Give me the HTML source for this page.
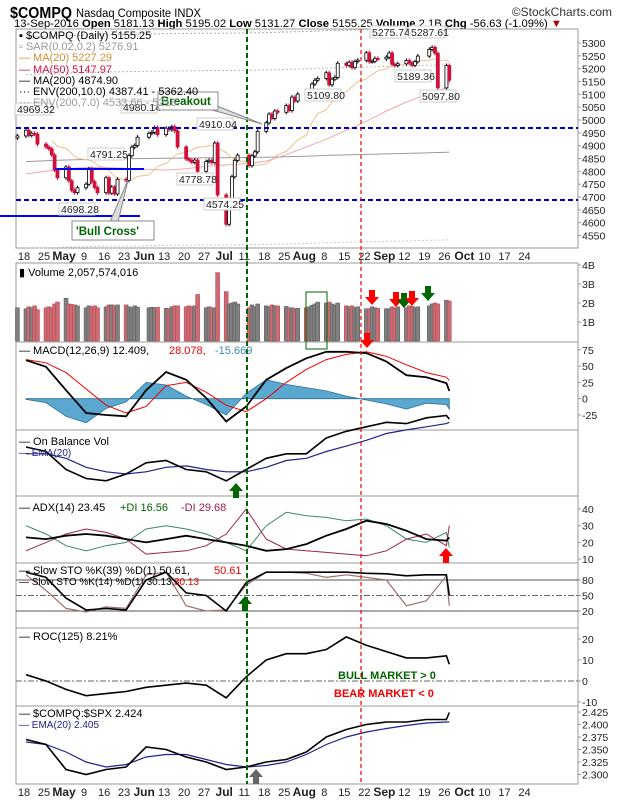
<!DOCTYPE html>
<html><head><meta charset="utf-8"><style>
body{margin:0;background:#fff;}
svg{display:block;font-family:"Liberation Sans",sans-serif;}
</style></head><body>
<svg id="c" width="620" height="800" viewBox="0 0 620 800" xmlns="http://www.w3.org/2000/svg">
<rect width="620" height="800" fill="#fff"/>
<g>
<text x="10" y="18" font-size="16" font-weight="bold" fill="#000" textLength="62" lengthAdjust="spacingAndGlyphs">$COMPQ</text>
<text x="76" y="17" font-size="11.5" fill="#000" textLength="125" lengthAdjust="spacingAndGlyphs">Nasdaq Composite INDX</text>
<text x="612" y="16" font-size="12" fill="#333" text-anchor="end">©StockCharts.com</text>
<text x="14" y="27" font-size="11" fill="#000" textLength="548" lengthAdjust="spacingAndGlyphs">13-Sep-2016   <tspan font-weight="bold">Open</tspan> 5181.13 <tspan font-weight="bold">High</tspan> 5195.02 <tspan font-weight="bold">Low</tspan> 5131.27 <tspan font-weight="bold">Close</tspan> 5155.25 <tspan font-weight="bold">Volume</tspan> 2.1B <tspan font-weight="bold">Chg</tspan> -56.63 (-1.09%) <tspan fill="#a00">▼</tspan></text>
</g>
<g id="panels"></g>
<g id="marks"></g>
<g id="annot"></g>
</svg>
<script>
// ---------- data ----------
const closes=[4938,4960,4940,4948,4945,4906,4895,4888,4864,4805,4775,4817,4763,4726,4717,4736,4750,4810,4760,4737,4717,4775,4715,4739,4712,4769,4765,4861,4894,4901,4933,4948,4952,4971,4943,4968,4962,4974,4958,4895,4848,4843,4835,4844,4800,4838,4843,4834,4910,4708,4594,4691,4779,4843,4863,4822,4860,4876,4956,4989,5023,5006,5035,5030,5056,5037,5089,5074,5101,5098,5110,5140,5155,5162,5184,5137,5159,5166,5221,5213,5225,5204,5228,5233,5262,5227,5229,5240,5238,5245,5261,5217,5212,5219,5232,5222,5213,5227,5249,5275,5283,5260,5125,5212,5155];
const volumes=[1.75,1.7,1.8,1.75,1.85,1.65,1.75,1.8,1.75,1.95,2.05,2.25,1.95,1.92,1.9,1.85,1.75,1.85,1.8,1.85,1.75,1.8,1.9,1.9,1.85,1.9,1.9,1.8,1.75,1.85,1.78,1.75,1.78,1.75,1.78,1.72,1.7,1.8,1.85,1.85,1.8,1.85,1.8,1.85,2.45,1.75,1.8,1.75,1.75,3.6,2.6,1.95,2.0,2.05,1.95,1.75,1.9,1.8,1.95,1.85,1.8,1.9,1.85,1.85,1.82,1.75,1.75,1.7,1.72,1.75,1.8,1.88,1.95,2.05,2.0,2.05,1.95,1.9,2.0,1.85,1.8,1.85,1.75,1.8,1.7,1.7,1.8,1.75,1.72,1.7,1.7,1.8,1.72,1.8,1.75,1.85,1.82,1.75,1.8,1.85,1.95,2.0,1.95,2.15,2.1];
const macdLine=[59,49,13,-22,-25,-27,13,41,29,1,-35,-12,29,47,62,72,72,70,57,36,33,24,12];
const macdSignal=[60,55,40,15,-10,-22,-12,20,25,10,-10,-20,0,25,45,60,68,72,65,52,40,33,28];
const obvVals=[100,90,50,30,25,40,65,70,50,45,25,50,75,85,85,120,135,145,155,152,165,170,162];
const obvEma=[85,85,75,55,45,40,45,55,58,50,45,45,55,70,75,90,102,115,130,138,145,152,155];
const adxVals=[23,22,24,25,24,22,20,22,24,22,20,18,15,16,19,24,28,33,31,27,22,21,23];
const plusDI=[30,25,18,15,18,20,28,30,28,25,20,15,30,38,36,35,33,34,30,22,20,26,17];
const minusDI=[15,20,25,28,26,22,13,14,15,18,25,40,22,16,15,14,13,12,15,22,25,18,30];
const sto39=[95,85,45,22,25,22,80,95,55,50,20,75,95,95,95,95,95,93,92,88,90,90,50];
const sto14=[90,60,25,18,28,25,90,95,30,20,22,70,95,95,93,85,90,85,80,30,40,88,30];
const rocVals=[3,0,-4,-7,-6,-5,-3,-2,-1,-2,-8,2,10,13,13,15,21,17,14,11,11,12,8];
const ratioVals=[2.37,2.36,2.31,2.30,2.31,2.315,2.355,2.35,2.335,2.325,2.31,2.315,2.325,2.33,2.345,2.375,2.39,2.40,2.405,2.405,2.41,2.41,2.424];
const ratioEma=[2.365,2.36,2.345,2.325,2.315,2.32,2.335,2.34,2.34,2.33,2.32,2.315,2.318,2.325,2.34,2.36,2.375,2.385,2.392,2.398,2.403,2.405,2.405];
const ma200=[4838,4841,4844,4846,4848,4849,4850,4851,4852,4853,4853,4854,4855,4857,4859,4862,4864,4866,4868,4870,4872,4874,4875];
const ma50=[4790,4800,4810,4815,4815,4812,4808,4805,4810,4820,4825,4830,4840,4865,4895,4925,4960,4995,5035,5070,5100,5125,5147];
const dateLabels=["18","25","May","9","16","23","Jun","13","20","27","Jul","11","18","25","Aug","8","15","22","Sep","12","19","26","Oct","10","17","24"];
const mainTicks=[5300,5250,5200,5150,5100,5050,5000,4950,4900,4850,4800,4750,4700,4650,4600,4550];
const volTicks=[1,2,3,4];
const macdTicks=[75,50,25,0,-25];
const adxTicks=[40,30,20,10];
const stoTicks=[80,50,20];
const rocTicks=[20,10,0,-10];
const ratioTicks=[2.425,2.4,2.375,2.35,2.325,2.3];

// ---------- scales ----------
const NS="http://www.w3.org/2000/svg";
const L=16,R=578;
function el(tag,attrs,parent,text){const e=document.createElementNS(NS,tag);for(const k in attrs)e.setAttribute(k,attrs[k]);if(text!==undefined)e.textContent=text;(parent||document.getElementById('marks')).appendChild(e);return e;}
const dayOff=[];{let d=new Date(2016,3,15);const end=new Date(2016,8,13);const hol=["2016-4-30","2016-6-4","2016-8-5"];const base=new Date(2016,3,18);
while(d<=end){const w=d.getDay();const key=d.getFullYear()+"-"+d.getMonth()+"-"+d.getDate();if(w>0&&w<6&&hol.indexOf(key)<0)dayOff.push(Math.round((d-base)/864e5));d.setDate(d.getDate()+1);}}
const xDay=d=>26+d*2.86;
const xBar=i=>xDay(dayOff[i]);
const weekDays=[];for(let k=0;k<22;k++)weekDays.push(k*7);weekDays.push(148);
const xWeek=k=>xDay(weekDays[k]);
const yMain=v=>120+(5000-v)*0.2567;
const yVol=v=>341-v*19;
const yMacd=v=>398.7-v*0.652;
const yObv=v=>492-v*0.45;
const yAdx=v=>509+(40-v)*1.67;
const ySto=v=>Math.max(566,611-(v-20)*0.517);
const yRoc=v=>681-v*2.1;
const yRatio=v=>712+(2.425-v)*500;

const P=document.getElementById('panels');
const panels=[["main-price-panel",29,248],["volume-panel",263,342],["macd-panel",342,430],["obv-panel",430,496],["adx-panel",496,563],["sto-panel",563,628],["roc-panel",628,706],["ratio-panel",706,784]];
panels.forEach(p=>{const r=el('rect',{x:L,y:p[1],width:R-L,height:p[2]-p[1],fill:'none',stroke:'#999','stroke-width':1},P);

});
function ticks(arr,fy,fmt,name){arr.forEach(v=>{el('line',{x1:R,x2:R+3,y1:fy(v),y2:fy(v),stroke:'#999'},P);
const t=el('text',{x:R+4,y:fy(v)+4,'font-size':10.5,fill:'#222'},P,fmt(v));

});}
ticks(mainTicks,yMain,v=>v,'price-axis-tick');
ticks(volTicks,yVol,v=>v+'B','volume-axis-tick');
ticks(macdTicks,yMacd,v=>v,'macd-axis-tick');
ticks(adxTicks,yAdx,v=>v,'adx-axis-tick');
ticks(stoTicks,ySto,v=>v,'sto-axis-tick');
ticks(rocTicks,yRoc,v=>v,'roc-axis-tick');
ticks(ratioTicks,yRatio,v=>v.toFixed(3),'ratio-axis-tick');
[256,792].forEach((yy)=>{dateLabels.forEach((s,k)=>{const bold=isNaN(+s);const t=el('text',{x:xDay(k*7)-2,y:yy+4,'font-size':bold?12:11,'font-weight':bold?'bold':'normal','text-anchor':'middle',fill:'#222'},P,s);

});});

function poly(vals,xf,yf,stroke,w,name,dash){const pts=vals.map((v,i)=>xf(i).toFixed(1)+','+yf(v).toFixed(1)).join(' ');
const e=el('polyline',{points:pts,fill:'none',stroke:stroke,'stroke-width':w,'stroke-dasharray':dash||'none'});

return e;}

poly(ma200,xWeek,v=>yMain(v*1.07),'#bbb',1,'env-7-upper','2,2');
poly(ma200,xWeek,v=>yMain(v*1.1),'#aaa',1,'env-10-upper','2,2');
poly(ma200,xWeek,v=>yMain(v*0.93),'#ccc',1,'env-7-lower','2,2');
poly(ma200,xWeek,yMain,'#999',1,'ma200-line');
function sma(n){const out=[];for(let i=0;i<closes.length;i++){const s=Math.max(0,i-n+1);let t=0;for(let j=s;j<=i;j++)t+=closes[j];out.push(t/(i-s+1));}return out;}
poly(sma(20).slice(8),i=>xBar(i+8),yMain,'#e8c48a',1,'ma20-line');
poly(ma50,xWeek,yMain,'#f0a8b0',1,'ma50-line');
closes.forEach((c,i)=>{const o=i?closes[i-1]:4930;const x=xBar(i);const up=c>=o;
const w=el('line',{x1:x,x2:x,y1:yMain(Math.max(o,c)+8),y2:yMain(Math.min(o,c)-8),stroke:up?'#000':'#c03'});


const r=el('rect',{x:x-1.5,y:yMain(Math.max(o,c)),width:3,height:Math.max(1,Math.abs(yMain(o)-yMain(c))),fill:up?'#fff':'#d0103a',stroke:up?'#000':'#d0103a','stroke-width':0.8});

});
volumes.forEach((v,i)=>{const up=i?closes[i]>=closes[i-1]:true;
const r=el('rect',{x:xBar(i)-2,y:yVol(v),width:4,height:341-yVol(v),fill:up?'#808080':'#cd6b73',stroke:up?'#555':'#b04050','stroke-width':0.5});

});
{const pts=[xWeek(0)+','+yMacd(0)];macdLine.forEach((v,i)=>pts.push(xWeek(i)+','+yMacd(v-macdSignal[i])));pts.push(xWeek(22)+','+yMacd(0));
const h=el('polygon',{points:pts.join(' '),fill:'#5aa7d0',stroke:'#2a6f99','stroke-width':0.8});

}
poly(macdSignal,xWeek,yMacd,'#e00',1,'macd-signal-line');
poly(macdLine,xWeek,yMacd,'#000',1.8,'macd-line');
poly(obvEma,xWeek,yObv,'#22228a',1.2,'obv-ema-line');
poly(obvVals,xWeek,yObv,'#000',1.6,'obv-line');
poly(plusDI,xWeek,yAdx,'#3a8a60',1,'plus-di-line');
poly(minusDI,xWeek,yAdx,'#a0204a',1,'minus-di-line');
poly(adxVals,xWeek,yAdx,'#000',1.8,'adx-line');
[80,20].forEach(v=>el('line',{x1:L,x2:R,y1:ySto(v),y2:ySto(v),stroke:'#555'},P));
el('line',{x1:L,x2:R,y1:ySto(50),y2:ySto(50),stroke:'#666','stroke-dasharray':'6,2,2,2'},P);
poly(sto14,xWeek,ySto,'#a07070',1.2,'sto14-line');
poly(sto39,xWeek,ySto,'#000',1.6,'sto39-line');
el('line',{x1:L,x2:R,y1:yRoc(0),y2:yRoc(0),stroke:'#666','stroke-dasharray':'6,2,2,2'},P);
poly(rocVals,xWeek,yRoc,'#000',1.6,'roc-line');
poly(ratioEma,xWeek,yRatio,'#22228a',1.2,'ratio-ema-line');
poly(ratioVals,xWeek,yRatio,'#000',1.6,'ratio-line');
</script>
<script>
const A=document.getElementById('annot');
function ae(tag,attrs,text){const e=document.createElementNS("http://www.w3.org/2000/svg",tag);for(const k in attrs)e.setAttribute(k,attrs[k]);if(text!==undefined)e.textContent=text;A.appendChild(e);return e;}
let e;
e=ae('line',{x1:16,x2:578,y1:128,y2:128,stroke:'#00c','stroke-width':2,'stroke-dasharray':'5,3'});


e=ae('line',{x1:16,x2:578,y1:200,y2:200,stroke:'#00c','stroke-width':2,'stroke-dasharray':'5,3'});


e=ae('line',{x1:55,x2:144,y1:169,y2:169,stroke:'#00f','stroke-width':2});


e=ae('line',{x1:0,x2:140,y1:216,y2:216,stroke:'#00f','stroke-width':2});


e=ae('line',{x1:247,x2:247,y1:29,y2:784,stroke:'#060','stroke-width':2,'stroke-dasharray':'5,3'});


e=ae('line',{x1:361,x2:361,y1:29,y2:784,stroke:'#e00','stroke-width':1.2,'stroke-dasharray':'4,3'});


[[16,112,'4969.32'],[122,110,'4980.14'],[198,127,'4910.04'],[89,157,'4791.25'],[178,182,'4778.78'],[205,207,'4574.25'],[60,212,'4698.28'],[306,98,'5109.80'],[371,35,'5275.74'],[410,35,'5287.61'],[396,79,'5189.36'],[421,99,'5097.80']].forEach(l=>{
e=ae('rect',{x:l[0]-1,y:l[1]-9,width:36,height:12,fill:'#fff',stroke:'#ccc'});


e=ae('text',{x:l[0]+1,y:l[1]+1,'font-size':10.5,fill:'#222'},l[2]);

});
e=ae('polygon',{points:'212,104 262,124 212,110',fill:'#ddd',stroke:'#888'});


e=ae('rect',{x:158,y:92,width:60,height:18,fill:'#fff',stroke:'#888'});


e=ae('text',{x:161,y:105,'font-size':11.5,'font-weight':'bold',fill:'#060'},'Breakout');


e=ae('polygon',{points:'110,222 128,180 118,222',fill:'#ddd',stroke:'#888'});


e=ae('rect',{x:72,y:221,width:82,height:19,fill:'#fff',stroke:'#888'});


e=ae('text',{x:76,y:235,'font-size':11.5,'font-weight':'bold',fill:'#060'},"'Bull Cross'");


e=ae('rect',{x:306,y:292,width:21,height:57,fill:'none',stroke:'#060'});


function arrow(x,y,dir,col,name){const d=dir>0?`M${x-3},${y} h6 v7 h4 l-7,8 l-7,-8 h4z`:`M${x-3},${y} h6 v-7 h4 l-7,-8 l-7,8 h4z`;
const a=ae('path',{d:d,fill:col});

}
arrow(372,290,1,'#f00','volume-sell-arrow');arrow(396,292,1,'#f00','volume-sell-arrow');arrow(404,293,1,'#060','volume-buy-arrow');arrow(412,291,1,'#f00','volume-sell-arrow');arrow(428,286,1,'#060','volume-buy-arrow');
arrow(367,333,1,'#f00','macd-sell-arrow');arrow(236,498,-1,'#060','obv-buy-arrow');arrow(446,563,-1,'#f00','adx-arrow');arrow(245,611,-1,'#060','sto-buy-arrow');arrow(256,784,-1,'#666','ratio-arrow');
const leg=[[35,'▪ $COMPQ (Daily) 5155.25','#000'],[46,'▫ SAR(0.02,0.2) 5276.91','#999'],[57,'— MA(20) 5227.29','#d09030'],[69,'— MA(50) 5147.97','#d01040'],[80,'— MA(200) 4874.90','#000'],[91,'··· ENV(200,10.0) 4387.41 - 5362.40','#000'],[102,'··· ENV(200,7.0) 4533.66 - 5216.','#999'],
[272,'▮ Volume 2,057,574,016','#000'],[350,'— MACD(12,26,9) 12.409, ','#000'],[441,'— On Balance Vol','#000'],[452,'— EMA(20)','#22228a'],[507,'— ADX(14) 23.45 ','#000'],[570,'— Slow STO %K(39) %D(1) 50.61, ','#000'],[581,'— Slow STO %K(14) %D(1) 30.13, ','#000'],[636,'— ROC(125) 8.21%','#000'],[713,'— $COMPQ:$SPX 2.424','#000'],[724,'— EMA(20) 2.405','#22228a']];
leg.forEach(l=>{e=ae('text',{x:19,y:l[0]+4,'font-size':l[0]===581||l[0]===452||l[0]===724?10:11,fill:l[2]},l[1]);

});
e=ae('text',{x:169,y:354,'font-size':11,fill:'#e00'},'28.078,');
e=ae('text',{x:215,y:354,'font-size':11,fill:'#3a8ab0'},'-15.669');
e=ae('text',{x:120,y:511,'font-size':11,fill:'#060'},'+DI 16.56');
e=ae('text',{x:181,y:511,'font-size':11,fill:'#a0204a'},'-DI 29.68');
e=ae('text',{x:214,y:574,'font-size':11,fill:'#e00'},'50.61');
e=ae('text',{x:174,y:585,'font-size':10,fill:'#e00'},'30.13');
e=ae('text',{x:338,y:679,'font-size':11,'font-weight':'bold',fill:'#060'},'BULL MARKET > 0');
e=ae('text',{x:334,y:697,'font-size':11,'font-weight':'bold',fill:'#e00'},'BEAR MARKET < 0');
</script>
</body></html>
